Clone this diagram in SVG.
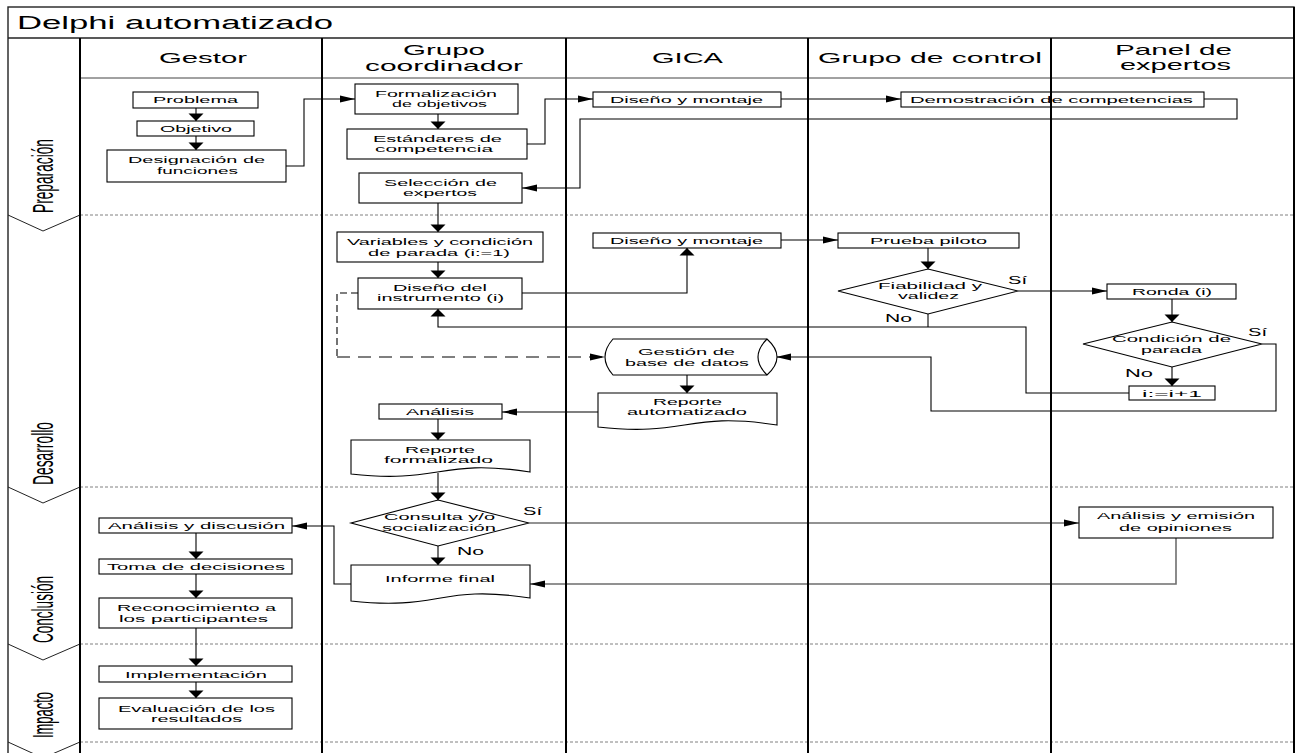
<svg xmlns="http://www.w3.org/2000/svg" width="1301" height="753" viewBox="0 0 1301 753">
<style>
.t{font-family:"Liberation Sans",Arial,sans-serif;font-size:9.6px;fill:#000}
.h{font-size:15px}
.ti{font-size:18px}
.lb{font-size:11px}
.ph{font-size:15.5px}
.bx{fill:#fff;stroke:#000;stroke-width:1.1}
.c{fill:none;stroke:#000;stroke-width:1.1}
.cg{fill:none;stroke:#6e6e6e;stroke-width:1.6}
.dsh{fill:none;stroke:#000;stroke-width:1.1}
.dot{fill:none;stroke:#808080;stroke-width:1;stroke-dasharray:3 2}
.lane{stroke:#000;stroke-width:2}
.fr{fill:none;stroke:#222;stroke-width:1.4}
.chev{fill:none;stroke:#222;stroke-width:1}
</style>
<defs>
<marker id="ah" markerUnits="userSpaceOnUse" markerWidth="16" markerHeight="8" refX="15" refY="3.5" orient="auto" overflow="visible"><path d="M0,0 L15,3.5 L0,7 z" fill="#000"/></marker>
<marker id="av" markerUnits="userSpaceOnUse" markerWidth="8" markerHeight="16" refX="7.5" refY="7.5" orient="auto" overflow="visible"><path d="M0,0 L7.5,7.5 L0,15 z" fill="#000"/></marker>
</defs>
<rect x="0" y="0" width="1301" height="753" fill="#fff"/>

<g id="frame">
<rect class="fr" x="8" y="7" width="1286" height="760"/>
<line x1="8" y1="38" x2="1294" y2="38" stroke="#222" stroke-width="1.4"/>
<line x1="80" y1="78" x2="1294" y2="78" stroke="#444" stroke-width="1"/>
<text class="t ti" x="17" y="29" textLength="316" lengthAdjust="spacingAndGlyphs">Delphi automatizado</text>
</g>

<g id="headers">
<text class="t h" x="159" y="63" textLength="88" lengthAdjust="spacingAndGlyphs">Gestor</text>
<text class="t h" x="403" y="55" textLength="82" lengthAdjust="spacingAndGlyphs">Grupo</text>
<text class="t h" x="365" y="71" textLength="158" lengthAdjust="spacingAndGlyphs">coordinador</text>
<text class="t h" x="652" y="63" textLength="71" lengthAdjust="spacingAndGlyphs">GICA</text>
<text class="t h" x="818" y="63" textLength="224" lengthAdjust="spacingAndGlyphs">Grupo de control</text>
<text class="t h" x="1115" y="55" textLength="117" lengthAdjust="spacingAndGlyphs">Panel de</text>
<text class="t h" x="1120" y="70" textLength="111" lengthAdjust="spacingAndGlyphs">expertos</text>
</g>

<g id="phases">
<line class="dot" x1="80" y1="215" x2="1294" y2="215"/>
<line class="dot" x1="80" y1="487" x2="1294" y2="487"/>
<line class="dot" x1="80" y1="644" x2="1294" y2="644"/>
<line class="dot" x1="80" y1="742" x2="1294" y2="742"/>
<path class="chev" d="M8,215 L43,231 L80,215"/>
<path class="chev" d="M8,487 L43,503 L80,487"/>
<path class="chev" d="M8,644 L43,660 L80,644"/>
<path class="chev" d="M8,742 L43,758 L80,742"/>
<text class="t ph" transform="translate(53,213) scale(1.85,1) rotate(-90)" textLength="74" lengthAdjust="spacingAndGlyphs">Preparación</text>
<text class="t ph" transform="translate(53,485) scale(1.85,1) rotate(-90)" textLength="63" lengthAdjust="spacingAndGlyphs">Desarrollo</text>
<text class="t ph" transform="translate(53,643) scale(1.85,1) rotate(-90)" textLength="67" lengthAdjust="spacingAndGlyphs">Conclusión</text>
<text class="t ph" transform="translate(53,738) scale(1.85,1) rotate(-90)" textLength="46" lengthAdjust="spacingAndGlyphs">Impacto</text>
</g>

<g id="connectors">
<path class="c" d="M196,108 V121" marker-end="url(#av)"/>
<path class="c" d="M196,136 V150" marker-end="url(#av)"/>
<path class="c" d="M286,166 H304 V99 H355" marker-end="url(#ah)"/>
<path class="c" d="M438,114 V129" marker-end="url(#av)"/>
<path class="c" d="M527,144 H545 V99 H593" marker-end="url(#ah)"/>
<path class="c" d="M781,99 H901" marker-end="url(#ah)"/>
<path class="c" d="M1204,99 H1237 V119 H580 V188 H522" marker-end="url(#ah)"/>
<path class="c" d="M438,203 V232" marker-end="url(#av)"/>
<path class="c" d="M438,262 V278" marker-end="url(#av)"/>
<path class="c" d="M522,293 H687 V248" marker-end="url(#av)"/>
<path class="c" d="M781,240 H838" marker-end="url(#ah)"/>
<path class="c" d="M928,248 V269" marker-end="url(#av)"/>
<path class="c" d="M1018,291 H1107" marker-end="url(#ah)"/>
<path class="c" d="M928,314 V327"/>
<path class="c" d="M1129,393 H1026 V327 H438 V309" marker-end="url(#av)"/>
<path class="c" d="M1172,299 V322" marker-end="url(#av)"/>
<path class="c" d="M1172,367 V386" marker-end="url(#av)"/>
<path class="c" d="M1262,344 H1276 V411 H931 V357 H776" marker-end="url(#ah)"/>
<path class="dsh" d="M358,293 H337 V357" stroke-dasharray="7 4"/>
<path class="dsh" d="M337,357 H605" stroke-dasharray="13 8" marker-end="url(#ah)"/>
<path class="c" d="M687,375 V393" marker-end="url(#av)"/>
<path class="c" d="M598,412 H502" marker-end="url(#ah)"/>
<path class="c" d="M438,419 V440" marker-end="url(#av)"/>
<path class="c" d="M438,473 V500" marker-end="url(#av)"/>
<path class="c" d="M438,546 V565" marker-end="url(#av)"/>
<path class="cg" d="M529,523 H1079" marker-end="url(#ah)"/>
<path class="cg" d="M1176,538 V584 H530" marker-end="url(#ah)"/>
<path class="c" d="M351,584 H334 V526 H292" marker-end="url(#ah)"/>
<path class="c" d="M196,533 V559" marker-end="url(#av)"/>
<path class="c" d="M196,574 V598" marker-end="url(#av)"/>
<path class="c" d="M196,628 V666" marker-end="url(#av)"/>
<path class="c" d="M196,682 V698" marker-end="url(#av)"/>
</g>

<g id="n-problema"><rect class="bx" x="133" y="92" width="125" height="16"/><text class="t" x="153" y="103" textLength="85" lengthAdjust="spacingAndGlyphs">Problema</text></g>
<g id="n-objetivo"><rect class="bx" x="137" y="121" width="117" height="15"/><text class="t" x="160" y="132" textLength="72" lengthAdjust="spacingAndGlyphs">Objetivo</text></g>
<g id="n-designacion"><rect class="bx" x="107" y="150" width="179" height="32"/><text class="t" x="128" y="163" textLength="137" lengthAdjust="spacingAndGlyphs">Designación de</text><text class="t" x="157" y="174" textLength="81" lengthAdjust="spacingAndGlyphs">funciones</text></g>
<g id="n-formalizacion"><rect class="bx" x="355" y="84" width="163" height="30"/><text class="t" x="375" y="97" textLength="122" lengthAdjust="spacingAndGlyphs">Formalización</text><text class="t" x="392" y="107" textLength="95" lengthAdjust="spacingAndGlyphs">de objetivos</text></g>
<g id="n-estandares"><rect class="bx" x="347" y="129" width="180" height="30"/><text class="t" x="373" y="142" textLength="129" lengthAdjust="spacingAndGlyphs">Estándares de</text><text class="t" x="375" y="152" textLength="118" lengthAdjust="spacingAndGlyphs">competencia</text></g>
<g id="n-seleccion"><rect class="bx" x="359" y="173" width="163" height="30"/><text class="t" x="384" y="186" textLength="113" lengthAdjust="spacingAndGlyphs">Selección de</text><text class="t" x="403" y="196" textLength="74" lengthAdjust="spacingAndGlyphs">expertos</text></g>
<g id="n-variables"><rect class="bx" x="337" y="232" width="206" height="30"/><text class="t" x="347" y="245" textLength="186" lengthAdjust="spacingAndGlyphs">Variables y condición</text><text class="t" x="368" y="256" textLength="142" lengthAdjust="spacingAndGlyphs">de parada (i:=1)</text></g>
<g id="n-instrumento"><rect class="bx" x="358" y="278" width="164" height="31"/><text class="t" x="393" y="291" textLength="94" lengthAdjust="spacingAndGlyphs">Diseño del</text><text class="t" x="377" y="301" textLength="127" lengthAdjust="spacingAndGlyphs">instrumento (i)</text></g>
<g id="n-diseno1"><rect class="bx" x="593" y="92" width="188" height="15"/><text class="t" x="610" y="103" textLength="153" lengthAdjust="spacingAndGlyphs">Diseño y montaje</text></g>
<g id="n-demostracion"><rect class="bx" x="901" y="92" width="303" height="15"/><text class="t" x="910" y="103" textLength="283" lengthAdjust="spacingAndGlyphs">Demostración de competencias</text></g>
<g id="n-diseno2"><rect class="bx" x="593" y="233" width="188" height="15"/><text class="t" x="610" y="244" textLength="153" lengthAdjust="spacingAndGlyphs">Diseño y montaje</text></g>
<g id="n-prueba"><rect class="bx" x="838" y="233" width="181" height="15"/><text class="t" x="870" y="244" textLength="117" lengthAdjust="spacingAndGlyphs">Prueba piloto</text></g>
<g id="n-fiabilidad"><polygon class="bx" points="928,269 1018,291 928,314 838,291"/><text class="t" x="878" y="289" textLength="104" lengthAdjust="spacingAndGlyphs">Fiabilidad y</text><text class="t" x="898" y="299" textLength="61" lengthAdjust="spacingAndGlyphs">validez</text></g>
<g id="n-ronda"><rect class="bx" x="1107" y="284" width="129" height="15"/><text class="t" x="1132" y="295" textLength="80" lengthAdjust="spacingAndGlyphs">Ronda (i)</text></g>
<g id="n-condicion"><polygon class="bx" points="1172,322 1262,344 1172,367 1083,344"/><text class="t" x="1112" y="342" textLength="119" lengthAdjust="spacingAndGlyphs">Condición de</text><text class="t" x="1141" y="353" textLength="61" lengthAdjust="spacingAndGlyphs">parada</text></g>
<g id="n-incremento"><rect class="bx" x="1129" y="386" width="86" height="14"/><text class="t" x="1142" y="397" textLength="60" lengthAdjust="spacingAndGlyphs">i:=i+1</text></g>
<g id="n-gestion"><path class="bx" d="M613,339 H767 Q787,357 767,375 H613 Q597,357 613,339 Z"/><path class="c" d="M767,339 Q749,357 767,375"/><text class="t" x="638" y="355" textLength="97" lengthAdjust="spacingAndGlyphs">Gestión de</text><text class="t" x="625" y="366" textLength="124" lengthAdjust="spacingAndGlyphs">base de datos</text></g>
<g id="n-reporte-auto"><path class="bx" d="M598,393 H777 V425 C687,411 687,437 598,427 Z"/><text class="t" x="653" y="405" textLength="69" lengthAdjust="spacingAndGlyphs">Reporte</text><text class="t" x="627" y="415" textLength="120" lengthAdjust="spacingAndGlyphs">automatizado</text></g>
<g id="n-analisis"><rect class="bx" x="379" y="404" width="123" height="15"/><text class="t" x="406" y="415" textLength="68" lengthAdjust="spacingAndGlyphs">Análisis</text></g>
<g id="n-reporte-form"><path class="bx" d="M351,440 H530 V472 C440,458 440,484 351,474 Z"/><text class="t" x="405" y="453" textLength="70" lengthAdjust="spacingAndGlyphs">Reporte</text><text class="t" x="384" y="463" textLength="109" lengthAdjust="spacingAndGlyphs">formalizado</text></g>
<g id="n-consulta"><polygon class="bx" points="438,500 529,523 438,546 351,523"/><text class="t" x="384" y="520" textLength="111" lengthAdjust="spacingAndGlyphs">Consulta y/o</text><text class="t" x="382" y="531" textLength="114" lengthAdjust="spacingAndGlyphs">socialización</text></g>
<g id="n-informe"><path class="bx" d="M351,565 H530 V598 C440,584 440,611 351,601 Z"/><text class="t" x="385" y="582" textLength="110" lengthAdjust="spacingAndGlyphs">Informe final</text></g>
<g id="n-emision"><rect class="bx" x="1079" y="507" width="194" height="31"/><text class="t" x="1097" y="519" textLength="158" lengthAdjust="spacingAndGlyphs">Análisis y emisión</text><text class="t" x="1119" y="531" textLength="113" lengthAdjust="spacingAndGlyphs">de opiniones</text></g>
<g id="n-discusion"><rect class="bx" x="99" y="518" width="193" height="15"/><text class="t" x="108" y="529" textLength="177" lengthAdjust="spacingAndGlyphs">Análisis y discusión</text></g>
<g id="n-toma"><rect class="bx" x="99" y="559" width="193" height="15"/><text class="t" x="107" y="570" textLength="178" lengthAdjust="spacingAndGlyphs">Toma de decisiones</text></g>
<g id="n-reconocimiento"><rect class="bx" x="99" y="598" width="193" height="30"/><text class="t" x="117" y="611" textLength="159" lengthAdjust="spacingAndGlyphs">Reconocimiento a</text><text class="t" x="119" y="622" textLength="149" lengthAdjust="spacingAndGlyphs">los participantes</text></g>
<g id="n-implementacion"><rect class="bx" x="99" y="666" width="193" height="16"/><text class="t" x="125" y="678" textLength="142" lengthAdjust="spacingAndGlyphs">Implementación</text></g>
<g id="n-evaluacion"><rect class="bx" x="99" y="698" width="193" height="31"/><text class="t" x="118" y="712" textLength="157" lengthAdjust="spacingAndGlyphs">Evaluación de los</text><text class="t" x="151" y="722" textLength="91" lengthAdjust="spacingAndGlyphs">resultados</text></g>

<g id="labels">
<text class="t lb" x="1008" y="284" textLength="19" lengthAdjust="spacingAndGlyphs">Sí</text>
<text class="t lb" x="885" y="322" textLength="27" lengthAdjust="spacingAndGlyphs">No</text>
<text class="t lb" x="1248" y="336" textLength="19" lengthAdjust="spacingAndGlyphs">Sí</text>
<text class="t lb" x="1125" y="377" textLength="28" lengthAdjust="spacingAndGlyphs">No</text>
<text class="t lb" x="523" y="515" textLength="19" lengthAdjust="spacingAndGlyphs">Sí</text>
<text class="t lb" x="457" y="555" textLength="27" lengthAdjust="spacingAndGlyphs">No</text>
</g>

<g id="lanes">
<line class="lane" x1="80" y1="38" x2="80" y2="753"/>
<line class="lane" x1="322" y1="38" x2="322" y2="753"/>
<line class="lane" x1="566" y1="38" x2="566" y2="753"/>
<line class="lane" x1="808" y1="38" x2="808" y2="753"/>
<line class="lane" x1="1051" y1="38" x2="1051" y2="753"/>
<line class="lane" x1="1294" y1="7" x2="1294" y2="753"/>
</g>
</svg>
